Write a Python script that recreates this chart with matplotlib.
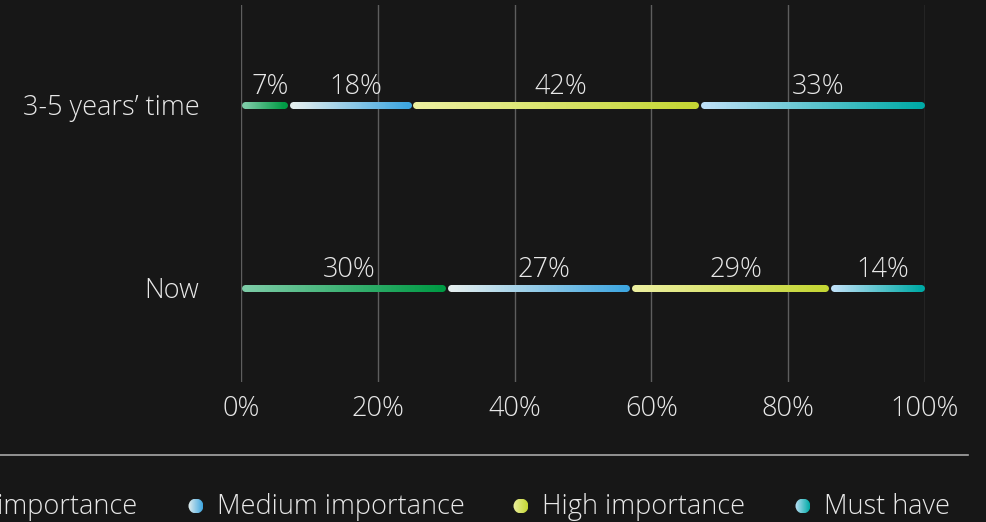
import numpy as np
import matplotlib
matplotlib.use("Agg")
import matplotlib.pyplot as plt
from matplotlib.collections import LineCollection
from matplotlib.colors import LinearSegmentedColormap
from matplotlib.patches import Circle

plt.rcParams['font.family'] = ['Open Sans', 'DejaVu Sans']

# data
rows = ['3-5 years\u2019 time', 'Now']
series = ['Low importance', 'Medium importance', 'High importance', 'Must have']
low = [7, 30]
medium = [18, 27]
high = [42, 29]
must = [33, 14]
values = [low, medium, high, must]
ticks = [0, 20, 40, 60, 80, 100]

# gradient start/end colours per series
grads = [('#7ccba6', '#009a44'),
         ('#e4eeee', '#3ea6e0'),
         ('#ecef9f', '#c4d634'),
         ('#bde0f7', '#00aaa6')]

bg = '#171717'
txt = '#e8e8e8'
fs = 19.5

fig = plt.figure(figsize=(9.87, 5.22), dpi=100, facecolor=bg)
ax = fig.add_axes([241/987, 140/522, 684/987, 377/522])
ax.set_facecolor(bg)
ax.set_xlim(0, 100)
ax.set_ylim(1.514, -0.546)

for t in ticks:
    ax.axvline(t, color='#5e5e5e', lw=1, zorder=0)

lw = 5.0
inset = 0.65
for r in range(len(rows)):
    start = 0
    for s in range(len(series)):
        v = values[s][r]
        a, b = start + inset, start + v - inset
        cmap = LinearSegmentedColormap.from_list('g', grads[s])
        xs = np.linspace(a, b, 120)
        segs = [[(xs[i], r), (min(xs[i+1] + 0.15, b), r)] for i in range(len(xs) - 1)]
        lc = LineCollection(segs, colors=cmap(np.linspace(0, 1, len(segs))),
                            linewidths=lw, capstyle='butt', antialiaseds=False,
                            zorder=3)
        ax.add_collection(lc)
        ax.plot([a], [r], 'o', ms=lw, mew=0, color=grads[s][0], zorder=2)
        ax.plot([b], [r], 'o', ms=lw, mew=0, color=grads[s][1], zorder=2)
        ax.annotate(f'{v}%', (start + v / 2, r), xytext=(4, 8),
                    textcoords='offset points', ha='center', va='baseline',
                    color=txt, fontsize=fs, fontweight='light')
        start += v

ax.set_xticks(ticks)
ax.set_xticklabels([f'{t}%' for t in ticks], color=txt, fontsize=fs,
                   fontweight='light')
ax.set_yticks(range(len(rows)))
ax.set_yticklabels(rows, color=txt, fontsize=fs, fontweight='light')
ax.tick_params(length=0, axis='x', pad=9)
ax.tick_params(length=0, axis='y', pad=30)
for sp in ax.spines.values():
    sp.set_visible(False)

# separator line
fig.add_artist(plt.Line2D([0, 968/987], [1 - 455/522, 1 - 455/522],
                          color='#a8a8a8', lw=1.2))

# legend
ly = 1 - 507/522
fig.text(137/987, ly, series[0], ha='right', va='center',
         color=txt, fontsize=fs, fontweight='light')
marker_x = [None, 196, 521, 803]
for s in range(1, 4):
    mx = marker_x[s]
    sz = 15
    cax = fig.add_axes([(mx - sz/2)/987, (522 - 506 - sz/2)/522, sz/987, sz/522])
    cax.axis('off')
    cmap = LinearSegmentedColormap.from_list('g', grads[s])
    grad = np.linspace(0, 1, 64).reshape(1, -1)
    im = cax.imshow(grad, cmap=cmap, extent=[0, 1, 0, 1], aspect='auto')
    circ = Circle((0.5, 0.5), 0.5, transform=cax.transData)
    im.set_clip_path(circ)
    cax.set_xlim(0, 1)
    cax.set_ylim(0, 1)
    fig.text((mx + 21)/987, ly, series[s], ha='left', va='center',
             color=txt, fontsize=fs, fontweight='light')

fig.savefig('out.png', dpi=100, facecolor=bg)
